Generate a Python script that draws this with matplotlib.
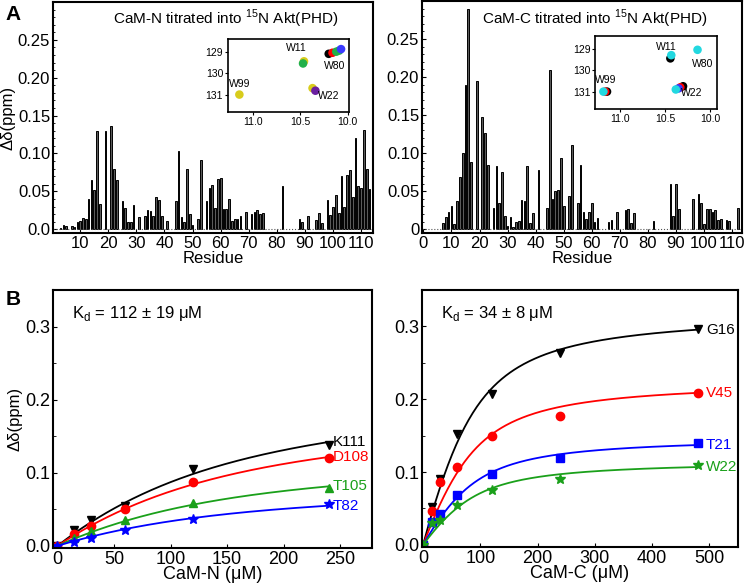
import numpy as np
import matplotlib
matplotlib.use("Agg")
import matplotlib.pyplot as plt
from matplotlib.ticker import MultipleLocator

plt.rcParams["font.family"] = ["Liberation Sans", "DejaVu Sans"]
plt.rcParams["mathtext.fontset"] = "custom"
plt.rcParams["mathtext.rm"] = "Liberation Sans"

# ---- panel A: chemical shift perturbation per residue ----
n_res = [3, 4, 5, 7, 8, 9, 10, 11, 12, 13, 14, 15, 16, 17, 19, 21, 22, 23, 25, 26, 27, 28, 29,
         31, 33, 34, 35, 36, 37, 38, 39, 41, 44, 45, 46, 47, 48, 49, 50, 52, 53, 55, 56, 57, 58,
         59, 60, 61, 62, 63, 64, 65, 66, 67, 69, 71, 72, 73, 74, 75, 82, 88, 89, 91, 94, 95, 96,
         98, 99, 100, 101, 102, 103, 104, 105, 106, 107, 108, 109, 110, 111, 112, 113]
n_dd = [0.002, 0.006, 0.004, 0.004, 0.003, 0.009, 0.011, 0.015, 0.013, 0.040, 0.065, 0.052,
        0.130, 0.033, 0.130, 0.136, 0.080, 0.065, 0.037, 0.028, 0.010, 0.010, 0.032,
        0.016, 0.017, 0.025, 0.024, 0.018, 0.043, 0.038, 0.017, 0.011, 0.037, 0.103, 0.016,
        0.010, 0.079, 0.020, 0.006, 0.013, 0.092, 0.037, 0.054, 0.058, 0.028, 0.066, 0.067,
        0.027, 0.027, 0.040, 0.011, 0.013, 0.014, 0.018, 0.023, 0.020, 0.023, 0.025, 0.020,
        0.021, 0.057, 0.014, 0.010, 0.017, 0.012, 0.022, 0.008, 0.039, 0.019, 0.029, 0.045,
        0.022, 0.070, 0.029, 0.071, 0.078, 0.043, 0.121, 0.057, 0.054, 0.131, 0.080, 0.053]

c_res = [7, 8, 9, 10, 11, 12, 13, 14, 15, 16, 17, 19, 21, 22, 23, 25, 26, 27, 28, 29, 30, 31,
         32, 33, 34, 35, 36, 37, 38, 39, 41, 44, 45, 46, 47, 48, 49, 50, 52, 53, 55, 56, 57,
         58, 59, 60, 61, 62, 66, 67, 69, 72, 73, 74, 75, 82, 88, 89, 90, 91, 96, 98, 99, 100,
         101, 102, 103, 104, 105, 106, 108, 109, 112]
c_dd = [0.008, 0.016, 0.022, 0.030, 0.007, 0.037, 0.068, 0.100, 0.190, 0.290, 0.089, 0.195,
        0.148, 0.126, 0.085, 0.028, 0.083, 0.035, 0.075, 0.018, 0.004, 0.016, 0.003, 0.009,
        0.011, 0.038, 0.037, 0.083, 0.008, 0.021, 0.078, 0.028, 0.209, 0.040, 0.050, 0.051,
        0.093, 0.030, 0.044, 0.111, 0.034, 0.084, 0.023, 0.014, 0.022, 0.035, 0.010, 0.015,
        0.010, 0.012, 0.022, 0.025, 0.026, 0.008, 0.021, 0.011, 0.060, 0.018, 0.060, 0.027,
        0.040, 0.046, 0.035, 0.007, 0.026, 0.027, 0.022, 0.025, 0.012, 0.013, 0.012, 0.011,
        0.028]

# HSQC inset peaks (1H ppm, 15N ppm)
n_peak_h = [11.14, 10.46, 10.47, 10.37, 10.34, 10.20, 10.16, 10.12, 10.09, 10.07]
n_peak_n = [131.0, 129.45, 129.55, 130.7, 130.82, 129.1, 129.05, 129.0, 128.95, 128.88]
n_peak_c = ["#d8cc1c", "#d8cc1c", "#22b04a", "#d8cc1c", "#6a1fa0", "black", "red",
            "#22b04a", "#22b04a", "#3a3aff"]
n_peak_labels = ["W99", "W11", "W80", "W22"]
n_label_h = [11.14, 10.54, 10.14, 10.20]
n_label_n = [130.5, 128.85, 129.65, 131.05]

c_peak_h = [11.14, 11.16, 11.18, 10.44, 10.43, 10.14, 10.30, 10.33, 10.35, 10.38]
c_peak_n = [131.0, 131.0, 131.0, 129.45, 129.3, 129.05, 130.75, 130.8, 130.85, 130.9]
c_peak_c = ["black", "red", "#22d8e0", "black", "#22d8e0", "#22d8e0", "black", "red",
            "#3a3aff", "#22d8e0"]
c_peak_labels = ["W99", "W11", "W80", "W22"]
c_label_h = [11.15, 10.48, 10.08, 10.20]
c_label_n = [130.45, 128.9, 129.7, 131.05]

# ---- panel B: titrations ----
conc_n = [0, 15, 30, 60, 120, 240]
n_series = ["K111", "D108", "T105", "T82"]
n_vals = [[0, 0.022, 0.036, 0.055, 0.105, 0.138],
          [0, 0.016, 0.027, 0.050, 0.087, 0.120],
          [0, 0.011, 0.020, 0.036, 0.058, 0.079],
          [0, 0.005, 0.011, 0.021, 0.037, 0.057]]
n_colors = ["black", "red", "#1aa01a", "blue"]
n_markers = ["v", "o", "^", "*"]
KD_N = 112

conc_c = [0, 15, 30, 60, 120, 240, 480]
c_series = ["G16", "V45", "T21", "W22"]
c_vals = [[0, 0.052, 0.091, 0.152, 0.207, 0.264, 0.296],
          [0, 0.046, 0.086, 0.107, 0.150, 0.177, 0.208],
          [0, 0.031, 0.042, 0.068, 0.097, 0.119, 0.140],
          [0, 0.030, 0.034, 0.055, 0.075, 0.090, 0.110]]
c_colors = ["black", "red", "blue", "#1aa01a"]
c_markers = ["v", "o", "s", "*"]
KD_C = 34

PROTEIN_UM = 75  # protein conc used in the quadratic binding model


def bound_fraction(L, kd, p=PROTEIN_UM):
    L = np.asarray(L, dtype=float)
    s = p + L + kd
    return (s - np.sqrt(s ** 2 - 4 * p * L)) / (2 * p)


fig = plt.figure(figsize=(7.45, 5.88), dpi=100)

def bar_panel(rect, res, dd, title, xticks, xlim, ylabels):
    ax = fig.add_axes(rect)
    ax.bar(res, dd, width=0.6, color="#5a5a5a", edgecolor="black", linewidth=0.7)
    ax.axhline(0, color="#555555", lw=0.8, ls=":")
    ax.set_xlim(*xlim)
    ax.set_ylim(-0.005, 0.30)
    ax.set_xticks(xticks)
    ax.set_yticks([0, 0.05, 0.10, 0.15, 0.20, 0.25])
    ax.set_yticklabels(ylabels)
    ax.yaxis.set_minor_locator(MultipleLocator(0.01))
    ax.tick_params(direction="in", labelsize=12, length=3, pad=2)
    ax.tick_params(which="minor", direction="in", length=1.5)
    for s in ax.spines.values():
        s.set_linewidth(1.5)
    ax.set_xlabel("Residue", fontsize=12, labelpad=0)
    ax.text(0.54, 0.925, title, transform=ax.transAxes, ha="center", va="center", fontsize=11)
    return ax

ax1 = bar_panel([0.0711, 0.6037, 0.4295, 0.393], n_res, n_dd,
                r"CaM-N titrated into $^{15}$N Akt(PHD)", range(10, 111, 10), (0.3, 114.2),
                ["0.0", "0.05", "0.10", "0.15", "0.20", "0.25"])
ax1.set_ylabel("Δδ(ppm)", fontsize=12, labelpad=2)
ax2 = bar_panel([0.5664, 0.6037, 0.4295, 0.3946], c_res, c_dd,
                r"CaM-C titrated into $^{15}$N Akt(PHD)", range(0, 111, 10), (-0.5, 113.5),
                ["0", "0.05", "0.10", "0.15", "0.20", "0.25"])


def inset(rect, ph, pn, pc, labels, lh, ln, xlim):
    ax = fig.add_axes(rect)
    ax.scatter(ph, pn, c=pc, s=38, edgecolors="none", zorder=3)
    for lab, x, y in zip(labels, lh, ln):
        ax.text(x, y, lab, ha="center", va="center", fontsize=7.5)
    ax.set_xlim(*xlim)
    ax.set_ylim(131.8, 128.4)
    ax.set_xticks([11.0, 10.5, 10.0])
    ax.set_yticks([129, 130, 131])
    ax.tick_params(labelsize=7.5, length=2, pad=1.5)
    for s in ax.spines.values():
        s.set_linewidth(1.2)
    return ax

inset([0.306, 0.81, 0.162, 0.124], n_peak_h, n_peak_n, n_peak_c,
      n_peak_labels, n_label_h, n_label_n, (11.26, 9.99))
inset([0.799, 0.815, 0.164, 0.124], c_peak_h, c_peak_n, c_peak_c,
      c_peak_labels, c_label_h, c_label_n, (11.27, 9.92))


def titration(rect, conc, names, vals, colors, markers, kd, kd_text, xlim, xticks, xlabel,
              label_gap):
    ax = fig.add_axes(rect)
    xx = np.linspace(0, conc[-1], 200)
    shape = bound_fraction(conc, kd)
    for name, v, col, m in zip(names, vals, colors, markers):
        v = np.asarray(v)
        dmax = np.sum(shape * v) / np.sum(shape * shape)
        ax.plot(xx, dmax * bound_fraction(xx, kd), color=col, lw=1.3)
        ax.plot(conc, v, ls="none", marker=m, color=col, ms=7 if m == "*" else 6)
        ax.text(conc[-1] + label_gap, dmax * bound_fraction(conc[-1], kd), name, color=col,
                fontsize=11, va="center", ha="left")
    ax.set_xlim(*xlim)
    ax.set_xticks(xticks)
    ax.set_ylim(-0.003, 0.35)
    ax.set_yticks([0, 0.1, 0.2, 0.3])
    ax.set_yticklabels(["0.0", "0.1", "0.2", "0.3"])
    ax.yaxis.set_minor_locator(MultipleLocator(0.05))
    ax.tick_params(direction="in", labelsize=13, length=3, pad=2)
    ax.tick_params(which="minor", direction="in", length=2)
    for s in ax.spines.values():
        s.set_linewidth(1.5)
    ax.set_xlabel(xlabel, fontsize=13, labelpad=-1)
    ax.text(0.06, 0.91, kd_text, transform=ax.transAxes, fontsize=12, va="center")
    return ax

ax3 = titration([0.0711, 0.068, 0.428, 0.4388], conc_n, n_series, n_vals, n_colors, n_markers,
                KD_N, r"K$_{\rm d}$ = 112 ± 19 μM", (-4, 278), range(0, 251, 50),
                "CaM-N (μM)", 3)
ax3.set_ylabel("Δδ(ppm)", fontsize=12, labelpad=2)
ax4 = titration([0.5664, 0.0697, 0.424, 0.437], conc_c, c_series, c_vals, c_colors, c_markers,
                KD_C, r"K$_{\rm d}$ = 34 ± 8 μM", (-2, 550), range(0, 501, 100),
                "CaM-C (μM)", 14)

fig.text(0.008, 0.975, "A", fontsize=15, fontweight="bold", va="center")
fig.text(0.008, 0.49, "B", fontsize=15, fontweight="bold", va="center")

fig.savefig("out.png", dpi=100)
